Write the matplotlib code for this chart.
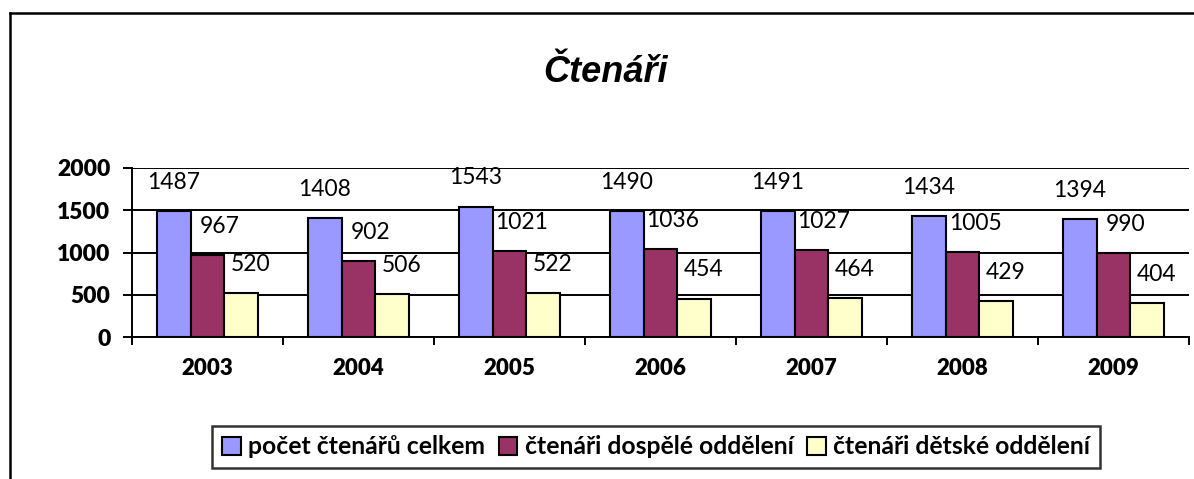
import matplotlib
matplotlib.use("Agg")
import matplotlib.pyplot as plt
from matplotlib.lines import Line2D
from matplotlib.patches import Patch
import numpy as np

years = ["2003", "2004", "2005", "2006", "2007", "2008", "2009"]
series_names = ["počet čtenářů celkem", "čtenáři dospělé oddělení", "čtenáři dětské oddělení"]
celkem = [1487, 1408, 1543, 1490, 1491, 1434, 1394]
dospele = [967, 902, 1021, 1036, 1027, 1005, 990]
detske = [520, 506, 522, 454, 464, 429, 404]
yticks = [0, 500, 1000, 1500, 2000]
title = "Čtenáři"

colors = ["#9999FF", "#993366", "#FFFFCC"]
FONT = "Lato"

W, H = 1194, 479
fig = plt.figure(figsize=(W / 100, H / 100), dpi=100)
ax = fig.add_axes([132 / W, 142 / H, 1057 / W, 169 / H])

x = np.arange(len(years)) + 0.5
w = 0.222
label_dx = [0, 9, 7]  # points
for k, (vals, col) in enumerate(zip([celkem, dospele, detske], colors)):
    bars = ax.bar(x + (k - 1) * w, vals, width=w, color=col, edgecolor="black",
                  linewidth=1.5, zorder=3, label=series_names[k])
    for b, v in zip(bars, vals):
        ax.annotate(str(v), (b.get_x() + b.get_width() / 2, v),
                    xytext=(label_dx[k], 16), textcoords="offset points",
                    ha="center", va="baseline", fontsize=16.5, family=FONT,
                    color="black", zorder=5, annotation_clip=False)

ax.set_xlim(0, len(years))
ax.set_ylim(0, 2000)
ax.set_yticks(yticks)
ax.set_yticklabels([str(t) for t in yticks], fontsize=16.5, fontweight="heavy", family=FONT)
ax.yaxis.grid(True, color="black", linewidth=1.4, zorder=1)
ax.set_axisbelow(True)

ax.set_xticks(x)
ax.set_xticklabels(years, fontsize=16, fontweight="heavy", family=FONT)
ax.set_xticks(np.arange(len(years) + 1), minor=True)
ax.tick_params(axis="x", which="major", length=0, pad=15)
ax.tick_params(axis="x", which="minor", length=6, width=1.4, direction="out")
ax.tick_params(axis="y", length=6.5, width=1.4, direction="out", pad=9)

for s in ["top", "right"]:
    ax.spines[s].set_visible(False)
for s in ["left", "bottom"]:
    ax.spines[s].set_linewidth(1.4)
    ax.spines[s].set_zorder(4)

fig.text(605 / W, 1 - 72 / H, title, fontsize=26, fontweight="bold", fontstyle="italic",
         family="Liberation Sans", ha="center", va="center")

# outer chart frame (left and top edges visible)
fig.add_artist(Line2D([10 / W, 10 / W], [0, 1 - 13 / H], transform=fig.transFigure,
                      color="black", linewidth=1.8))
fig.add_artist(Line2D([10 / W, 1], [1 - 13 / H, 1 - 13 / H], transform=fig.transFigure,
                      color="black", linewidth=1.8))

handles = [Patch(facecolor=c, edgecolor="black", linewidth=1.5) for c in colors]
leg = fig.legend(handles, series_names, loc="center", bbox_to_anchor=(656 / W, 1 - 447 / H),
                 ncol=3, frameon=True, fancybox=False, edgecolor="black",
                 prop={"family": FONT, "weight": "bold", "size": 17.8},
                 handlelength=0.75, handleheight=0.75, handletextpad=0.3,
                 columnspacing=0.55, borderpad=0.4, borderaxespad=0)
leg.get_frame().set_linewidth(1.8)

fig.savefig("out.png", dpi=100)
